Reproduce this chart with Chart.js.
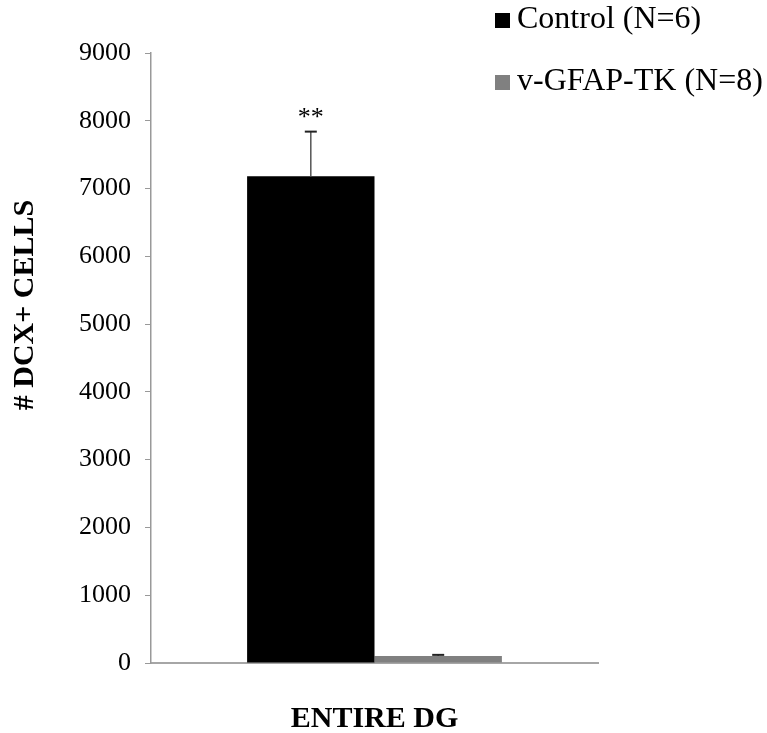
<!DOCTYPE html>
<html>
<head>
<meta charset="utf-8">
<script src="https://cdn.jsdelivr.net/npm/chart.js@4"></script>
<style>
  html, body { margin: 0; padding: 0; background: #fff; }
  #wrap { width: 767px; height: 733px; }
</style>
</head>
<body>
<div id="wrap"><canvas id="c" width="767" height="733"></canvas></div>
<script>
// --- data ---
const categories = ['ENTIRE DG'];
const seriesNames = ['Control (N=6)', 'v-GFAP-TK (N=8)'];
const controlValues = [7180];
const tkValues = [105];
const controlErr = [660];
const tkErr = [15];
const significance = ['**'];
const yTicks = [0, 1000, 2000, 3000, 4000, 5000, 6000, 7000, 8000, 9000];
const yTitle = '# DCX+ CELLS';

const FONT = '"Liberation Serif", "Times New Roman", serif';

// error bars + significance stars, drawn through the scales
const errorBars = {
  id: 'errorBars',
  afterDatasetsDraw(chart) {
    const ctx = chart.ctx;
    const y = chart.scales.y;
    chart.data.datasets.forEach((ds, di) => {
      const meta = chart.getDatasetMeta(di);
      meta.data.forEach((bar, i) => {
        const v = ds.data[i], e = ds.errors[i];
        const yTop = y.getPixelForValue(v + e);
        const yBase = y.getPixelForValue(v);
        ctx.save();
        ctx.strokeStyle = '#555';
        ctx.lineWidth = 1.5;
        ctx.beginPath();
        ctx.moveTo(bar.x, yBase);
        ctx.lineTo(bar.x, yTop);
        ctx.stroke();
        ctx.strokeStyle = '#222';
        ctx.lineWidth = 2;
        ctx.beginPath();
        ctx.moveTo(bar.x - 6, yTop);
        ctx.lineTo(bar.x + 6, yTop);
        ctx.stroke();
        if (ds.stars && ds.stars[i]) {
          ctx.fillStyle = '#000';
          ctx.font = '26px ' + FONT;
          ctx.textAlign = 'center';
          ctx.textBaseline = 'alphabetic';
          ctx.fillText(ds.stars[i], bar.x, yTop - 7);
        }
        ctx.restore();
      });
    });
  }
};

// legend in the top-right corner, axis titles
const extras = {
  id: 'extras',
  afterDraw(chart) {
    const ctx = chart.ctx;
    const a = chart.chartArea;
    ctx.save();
    ctx.font = '32px ' + FONT;
    ctx.textBaseline = 'middle';
    chart.data.datasets.forEach((ds, i) => {
      const yy = 20 + i * 62;
      ctx.fillStyle = ds.backgroundColor;
      ctx.fillRect(495, yy - 7, 15, 15);
      ctx.fillStyle = '#000';
      ctx.fillText(ds.label, 517, yy);
    });
    ctx.font = 'bold 30px ' + FONT;
    ctx.textAlign = 'center';
    ctx.fillText(categories[0], (a.left + a.right) / 2, 719);
    ctx.translate(25, 305);
    ctx.rotate(-Math.PI / 2);
    ctx.fillText(yTitle, 0, 0);
    ctx.restore();
  }
};

new Chart(document.getElementById('c'), {
  type: 'bar',
  data: {
    labels: categories,
    datasets: [
      { label: seriesNames[0], data: controlValues, errors: controlErr, stars: significance,
        backgroundColor: '#000000' },
      { label: seriesNames[1], data: tkValues, errors: tkErr,
        backgroundColor: '#808080' }
    ]
  },
  options: {
    responsive: false,
    animation: false,
    layout: { padding: { left: 21, right: 169, top: 53, bottom: 2 } },
    datasets: { bar: { barPercentage: 1.0, categoryPercentage: 0.57 } },
    plugins: { legend: { display: false }, tooltip: { enabled: false } },
    scales: {
      x: {
        ticks: { display: false },
        grid: { display: false },
        border: { color: '#a6a6a6', width: 2 },
        afterFit(s) { s.height = 68; }
      },
      y: {
        min: 0, max: 9000,
        afterBuildTicks(s) { s.ticks = yTicks.map(v => ({ value: v })); },
        ticks: { color: '#000', padding: 14, font: { family: FONT, size: 26 },
                 callback: v => String(v) },
        grid: { drawOnChartArea: false, tickLength: 6, color: '#999' },
        border: { color: '#999', width: 1.5 },
        afterFit(s) { s.width = 130; }
      }
    }
  },
  plugins: [errorBars, extras]
});
</script>
</body>
</html>
